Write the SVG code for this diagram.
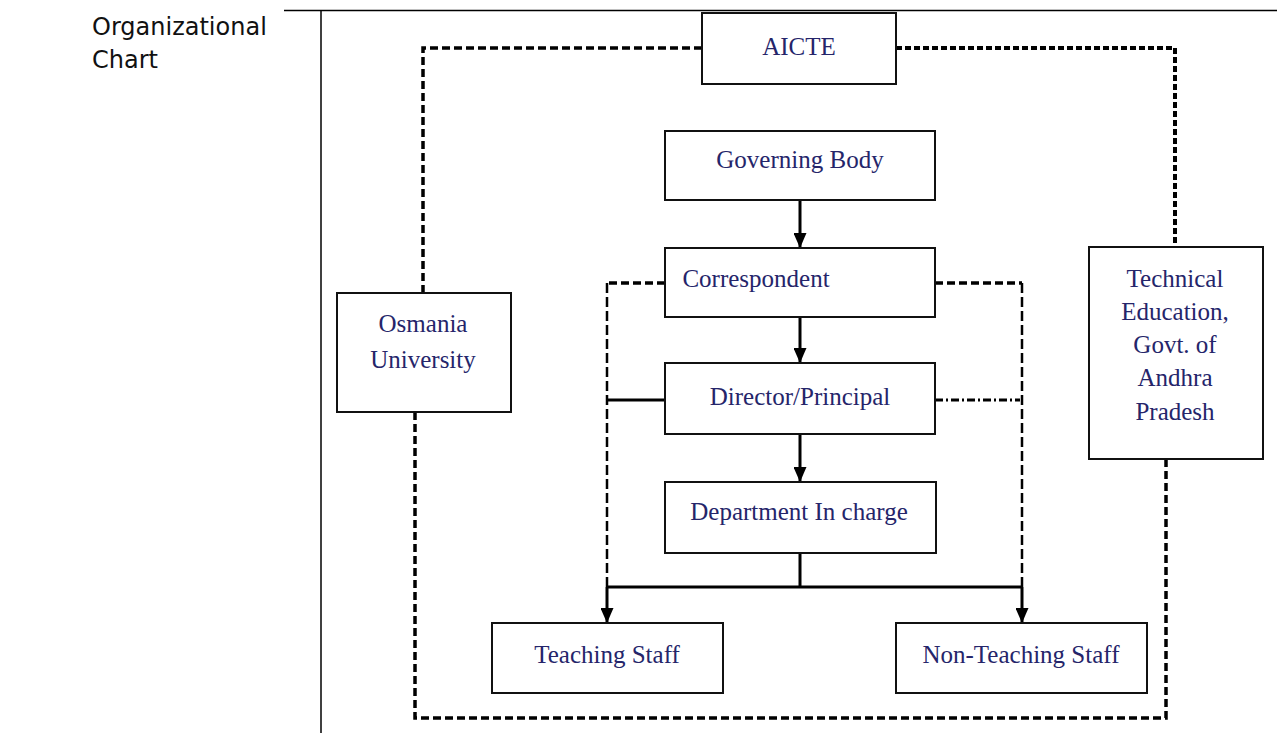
<svg xmlns="http://www.w3.org/2000/svg" width="1277" height="733" viewBox="0 0 1277 733">
<style>
.box{fill:#fff;stroke:#111;stroke-width:2}
.lbl{font-family:"Liberation Serif","Times New Roman",serif;font-size:25px;fill:#25256a;text-anchor:middle}
.title{font-family:"DejaVu Sans",sans-serif;font-size:24px;fill:#111}
.solid{fill:none;stroke:#000;stroke-width:3}
.dash{fill:none;stroke:#000;stroke-width:3.5;stroke-dasharray:8 4}
.dash2{fill:none;stroke:#000;stroke-width:2.5;stroke-dasharray:10 4}
.dot{fill:none;stroke:#000;stroke-width:4;stroke-dasharray:6 3}
.dashdot{fill:none;stroke:#000;stroke-width:3;stroke-dasharray:8 3 2 3}
</style>
<defs>
<marker id="ah" markerWidth="15" markerHeight="13" refX="15" refY="6.5" orient="auto" markerUnits="userSpaceOnUse" viewBox="0 0 15 13">
<path d="M0,0 L15,6.5 L0,13 Z" fill="#000"/>
</marker>
</defs>
<rect width="1277" height="733" fill="#fff"/>
<g id="frame">
<line x1="284" y1="10.5" x2="1277" y2="10.5" stroke="#000" stroke-width="1.5"/>
<line x1="321" y1="10" x2="321" y2="733" stroke="#000" stroke-width="1.5"/>
<text class="title" x="92" y="35">Organizational</text>
<text class="title" x="92" y="68">Chart</text>
</g>
<g id="connectors">
<path class="dash" d="M702,48 H423 V293"/>
<path class="dot" d="M896,48 H1175 V247"/>
<path class="dash" d="M415,412 V718 H1166 V459"/>
<path class="dash" d="M665,283 H607"/>
<path class="dash" d="M935,283 H1022"/>
<path class="dash2" d="M607,283 V587"/>
<path class="dash2" d="M1022,283 V587"/>
<path class="solid" d="M665,400 H607"/>
<path class="dashdot" d="M935,400 H1020"/>
<path class="solid" d="M800,200 V248" marker-end="url(#ah)"/>
<path class="solid" d="M800,317 V363" marker-end="url(#ah)"/>
<path class="solid" d="M800,434 V482" marker-end="url(#ah)"/>
<path class="solid" d="M800,553 V587 M607,587 H1022"/>
<path class="solid" d="M607,587 V623" marker-end="url(#ah)"/>
<path class="solid" d="M1022,587 V623" marker-end="url(#ah)"/>
</g>
<g id="aicte">
<rect class="box" x="702" y="13" width="194" height="71"/>
<text class="lbl" x="799" y="55">AICTE</text>
</g>
<g id="governing">
<rect class="box" x="665" y="131" width="270" height="69"/>
<text class="lbl" x="800" y="168">Governing Body</text>
</g>
<g id="correspondent">
<rect class="box" x="665" y="248" width="270" height="69"/>
<text class="lbl" x="756" y="287">Correspondent</text>
</g>
<g id="director">
<rect class="box" x="665" y="363" width="270" height="71"/>
<text class="lbl" x="800" y="405">Director/Principal</text>
</g>
<g id="department">
<rect class="box" x="665" y="482" width="271" height="71"/>
<text class="lbl" x="799" y="520">Department In charge</text>
</g>
<g id="osmania">
<rect class="box" x="337" y="293" width="174" height="119"/>
<text class="lbl" x="423" y="332">Osmania</text>
<text class="lbl" x="423" y="368">University</text>
</g>
<g id="technical">
<rect class="box" x="1089" y="247" width="174" height="212"/>
<text class="lbl" x="1175" y="287">Technical</text>
<text class="lbl" x="1175" y="320">Education,</text>
<text class="lbl" x="1175" y="353">Govt. of</text>
<text class="lbl" x="1175" y="386">Andhra</text>
<text class="lbl" x="1175" y="420">Pradesh</text>
</g>
<g id="teaching">
<rect class="box" x="492" y="623" width="231" height="70"/>
<text class="lbl" x="607" y="663">Teaching Staff</text>
</g>
<g id="nonteaching">
<rect class="box" x="896" y="623" width="251" height="70"/>
<text class="lbl" x="1021" y="663">Non-Teaching Staff</text>
</g>
</svg>
